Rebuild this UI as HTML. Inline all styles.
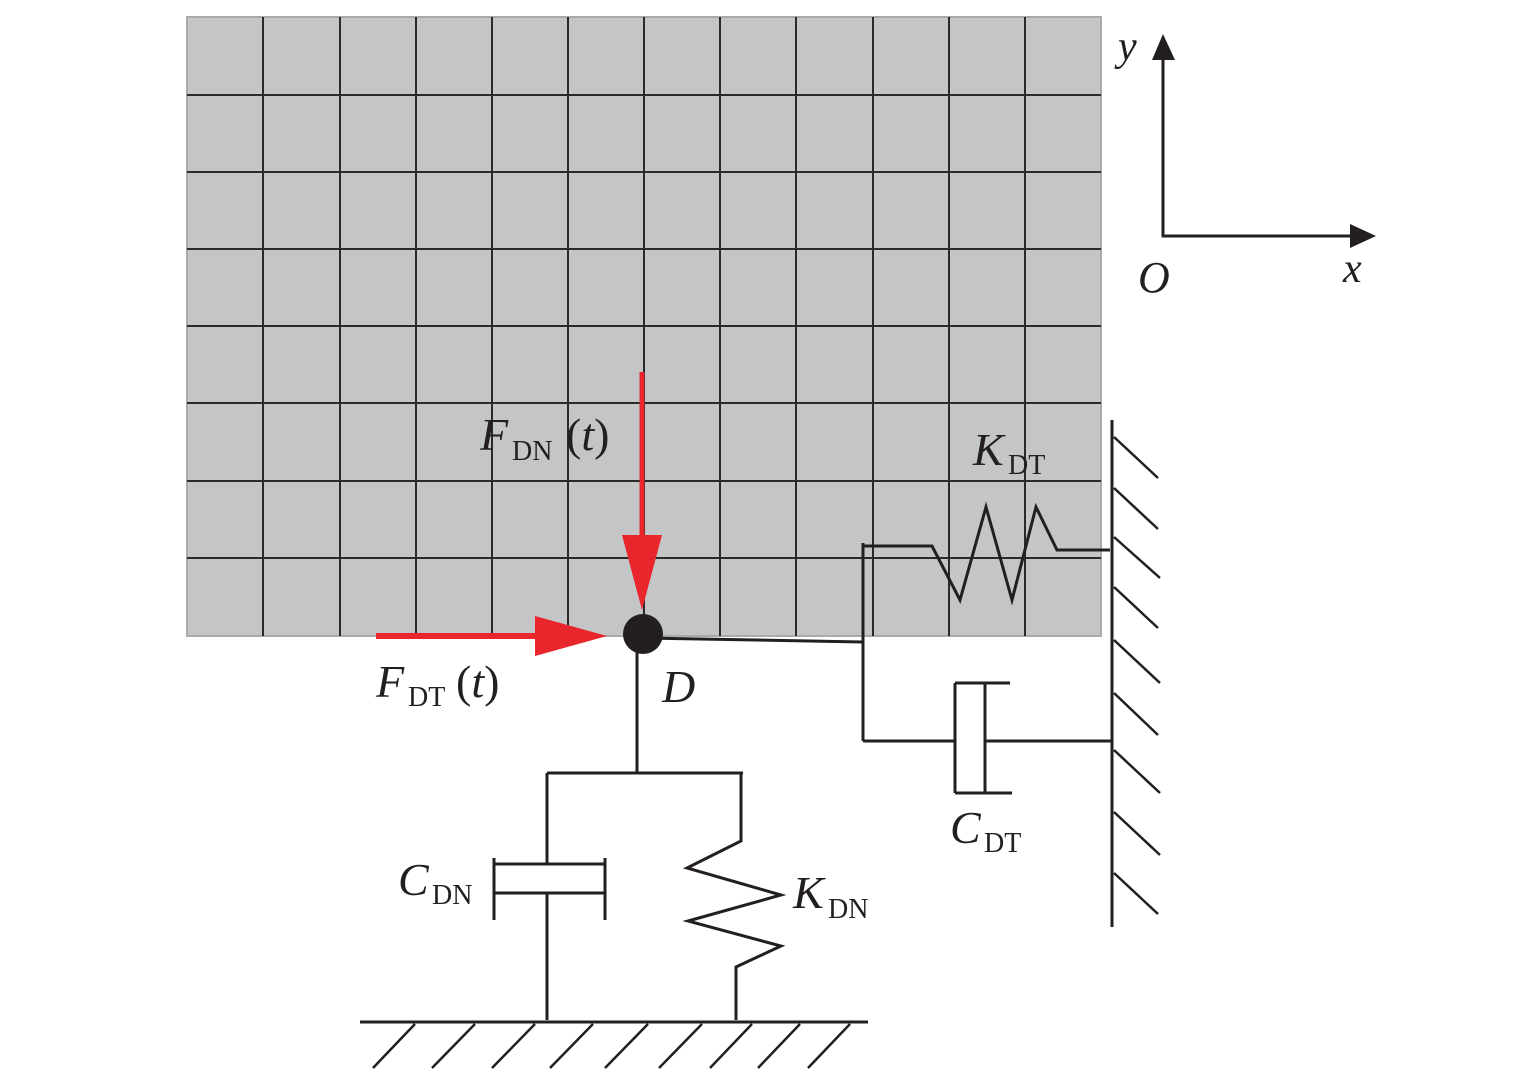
<!DOCTYPE html>
<html><head><meta charset="utf-8"><style>
html,body{margin:0;padding:0;background:#fff}
svg{display:block}
text{font-family:"Liberation Serif",serif;fill:#231f20}
.i{font-style:italic}
</style></head><body>
<svg width="1535" height="1072" viewBox="0 0 1535 1072" xmlns="http://www.w3.org/2000/svg">
<rect x="187" y="17" width="914" height="619" fill="#c4c5c7" stroke="#aaa" stroke-width="2"/>
<g stroke="#2a2a2a" stroke-width="2">
<line x1="263" y1="17" x2="263" y2="636"/><line x1="340" y1="17" x2="340" y2="636"/><line x1="416" y1="17" x2="416" y2="636"/><line x1="492" y1="17" x2="492" y2="636"/><line x1="568" y1="17" x2="568" y2="636"/><line x1="644" y1="17" x2="644" y2="636"/><line x1="720" y1="17" x2="720" y2="636"/><line x1="796" y1="17" x2="796" y2="636"/><line x1="873" y1="17" x2="873" y2="636"/><line x1="949" y1="17" x2="949" y2="636"/><line x1="1025" y1="17" x2="1025" y2="636"/>
<line x1="187" y1="95" x2="1101" y2="95"/><line x1="187" y1="172" x2="1101" y2="172"/><line x1="187" y1="249" x2="1101" y2="249"/><line x1="187" y1="326" x2="1101" y2="326"/><line x1="187" y1="403" x2="1101" y2="403"/><line x1="187" y1="481" x2="1101" y2="481"/><line x1="187" y1="558" x2="1101" y2="558"/>
</g>
<g stroke="#231f20" stroke-width="3" fill="none">
<!-- axes -->
<polyline points="1163,58 1163,236 1352,236"/>
<!-- D connections -->
<line x1="643" y1="638" x2="863" y2="642"/>
<line x1="637" y1="650" x2="637" y2="773"/>
<line x1="547" y1="773" x2="743" y2="773"/>
<line x1="547" y1="773" x2="547" y2="864"/>
<line x1="494" y1="864" x2="605" y2="864"/>
<line x1="494" y1="893" x2="605" y2="893"/>
<line x1="494" y1="858" x2="494" y2="920"/>
<line x1="605" y1="858" x2="605" y2="920"/>
<line x1="547" y1="893" x2="547" y2="1020"/>
<polyline points="741,773 741,841 687,868 781,895 688,921 781,946 736,967 736,1020"/>
<line x1="360" y1="1022" x2="868" y2="1022"/>
<!-- right side -->
<line x1="863" y1="543" x2="863" y2="741"/>
<polyline points="863,546 932,546 960,600 986,507 1012,600 1036,507 1057,550 1110,550"/>
<line x1="863" y1="741" x2="955" y2="741"/>
<line x1="955" y1="683" x2="955" y2="793"/>
<line x1="985" y1="683" x2="985" y2="793"/>
<line x1="955" y1="683" x2="1010" y2="683"/>
<line x1="955" y1="793" x2="1012" y2="793"/>
<line x1="985" y1="741" x2="1112" y2="741"/>
<line x1="1112" y1="420" x2="1112" y2="927"/>
</g>
<g stroke="#231f20" stroke-width="2.5">
<line x1="1114" y1="437" x2="1158" y2="478"/><line x1="1114" y1="488" x2="1158" y2="529"/><line x1="1114" y1="537" x2="1160" y2="578"/><line x1="1114" y1="587" x2="1158" y2="628"/><line x1="1114" y1="640" x2="1160" y2="683"/><line x1="1114" y1="693" x2="1158" y2="735"/><line x1="1114" y1="750" x2="1160" y2="793"/><line x1="1114" y1="812" x2="1160" y2="855"/><line x1="1114" y1="873" x2="1158" y2="914"/>
<line x1="415" y1="1024" x2="373" y2="1068"/><line x1="475" y1="1024" x2="432" y2="1068"/><line x1="535" y1="1024" x2="492" y2="1068"/><line x1="593" y1="1024" x2="550" y2="1068"/><line x1="648" y1="1024" x2="605" y2="1068"/><line x1="702" y1="1024" x2="659" y2="1068"/><line x1="752" y1="1024" x2="710" y2="1068"/><line x1="800" y1="1024" x2="758" y2="1068"/><line x1="850" y1="1024" x2="808" y2="1068"/>
</g>
<polygon points="1163,34 1152,60 1175,60" fill="#231f20"/>
<polygon points="1376,236 1350,224 1350,248" fill="#231f20"/>
<!-- red arrows -->
<line x1="642" y1="372" x2="642" y2="540" stroke="#e8262b" stroke-width="5"/>
<polygon points="622,535 662,535 642,610" fill="#e8262b"/>
<line x1="376" y1="636" x2="540" y2="636" stroke="#e8262b" stroke-width="6"/>
<polygon points="535,616 535,656 607,636" fill="#e8262b"/>
<circle cx="643" cy="634" r="20" fill="#231f20"/>
<!-- labels -->
<text x="1118" y="60" font-size="42" class="i">y</text>
<text x="1138" y="292" font-size="44" class="i">O</text>
<text x="1343" y="282" font-size="42" class="i">x</text>
<text x="480" y="450" font-size="46" class="i">F</text><text x="512" y="460" font-size="28">DN</text><text x="566" y="450" font-size="46">(<tspan class="i">t</tspan>)</text>
<text x="376" y="697" font-size="46" class="i">F</text><text x="408" y="706" font-size="28">DT</text><text x="456" y="697" font-size="46">(<tspan class="i">t</tspan>)</text>
<text x="662" y="702" font-size="46" class="i">D</text>
<text x="973" y="465" font-size="46" class="i">K</text><text x="1008" y="474" font-size="28">DT</text>
<text x="950" y="843" font-size="46" class="i">C</text><text x="984" y="852" font-size="28">DT</text>
<text x="398" y="895" font-size="46" class="i">C</text><text x="432" y="904" font-size="28">DN</text>
<text x="793" y="908" font-size="46" class="i">K</text><text x="828" y="918" font-size="28">DN</text>
</svg>
</body></html>
